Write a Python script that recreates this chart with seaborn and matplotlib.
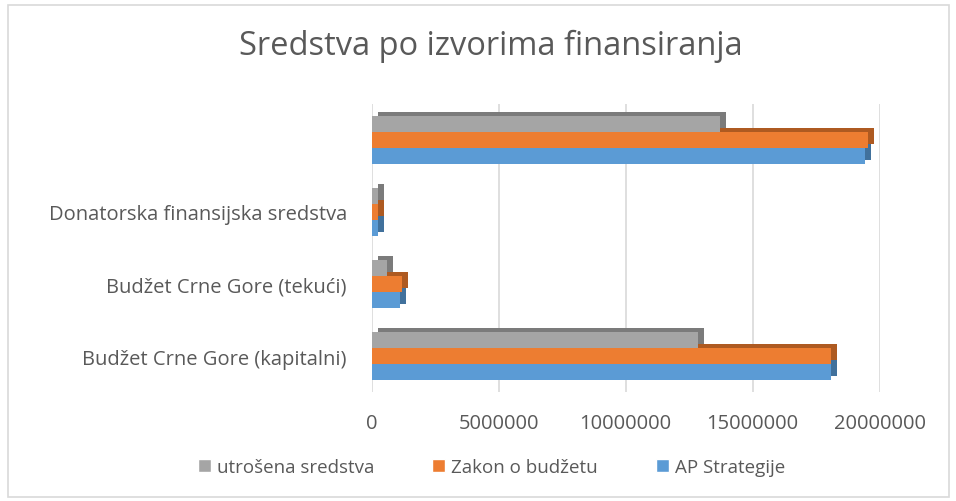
import numpy as np
import pandas as pd
import matplotlib

matplotlib.use("Agg")

import matplotlib.pyplot as plt
import matplotlib.transforms as mtransforms
from matplotlib.patches import Rectangle
import seaborn as sns

# =====================================
# Data
# =====================================

categories = [
    "",
    "Donatorska finansijska sredstva",
    "Budžet Crne Gore (tekući)",
    "Budžet Crne Gore (kapitalni)",
]
series_names = ["utrošena sredstva", "Zakon o budžetu", "AP Strategije"]

utrosena = [13700000, 260000, 600000, 12840000]
zakon = [19540000, 240000, 1200000, 18100000]
ap_strategije = [19440000, 240000, 1120000, 18080000]

x_ticks = [0, 5000000, 10000000, 15000000, 20000000]

colors = ["#A5A5A5", "#ED7D31", "#5B9BD5"]
side_colors = ["#7B7B7B", "#AE5A21", "#41719C"]
text_color = "#595959"

df = pd.DataFrame(
    {
        "izvor": categories * 3,
        "serija": np.repeat(series_names, len(categories)),
        "iznos": utrosena + zakon + ap_strategije,
    }
)

# =====================================
# Plot
# =====================================

sns.set_style("white")
plt.rcParams["font.family"] = ["Open Sans", "DejaVu Sans"]

fig = plt.figure(figsize=(9.56, 5.02), dpi=100)
ax = fig.add_axes([0.389, 0.217, 0.531, 0.574])

sns.barplot(
    data=df,
    x="iznos",
    y="izvor",
    hue="serija",
    order=categories,
    hue_order=series_names,
    palette=colors,
    orient="h",
    width=0.67,
    saturation=1,
    legend=False,
    linewidth=0,
    edgecolor="none",
    ax=ax,
    zorder=3,
)

# fake 3D depth: darker copy of each bar shifted up/right behind it
shift = mtransforms.offset_copy(ax.transData, fig=fig, x=6, y=4, units="dots")
for container, side in zip(ax.containers, side_colors):
    for bar in container:
        ax.add_patch(
            Rectangle(
                (bar.get_x(), bar.get_y()),
                bar.get_width(),
                bar.get_height(),
                facecolor=side,
                edgecolor="none",
                transform=shift,
                zorder=2,
            )
        )

ax.set_xlim(0, 20000000)
ax.set_xticks(x_ticks)
ax.set_xticklabels([str(t) for t in x_ticks])
ax.xaxis.grid(True, color="#D9D9D9", linewidth=1.2, zorder=0)
ax.yaxis.grid(False)
for s in ax.spines.values():
    s.set_visible(False)

ax.set_xlabel("")
ax.set_ylabel("")
ax.tick_params(axis="x", colors=text_color, labelsize=14.5, length=0, pad=15)
ax.tick_params(axis="y", colors=text_color, labelsize=14.5, length=0, pad=18)

fig.suptitle(
    "Sredstva po izvorima finansiranja",
    x=0.513,
    y=0.94,
    fontsize=23.5,
    color=text_color,
)

handles = [Rectangle((0, 0), 1, 1, facecolor=c) for c in colors]
fig.legend(
    handles,
    series_names,
    loc="center",
    bbox_to_anchor=(0.514, 0.068),
    ncol=3,
    frameon=False,
    fontsize=13.5,
    labelcolor=text_color,
    handlelength=0.7,
    handleheight=0.7,
    handletextpad=0.3,
    columnspacing=3.1,
)

# chart border
fig.patches.append(
    Rectangle(
        (0.008, 0.008),
        0.985,
        0.98,
        transform=fig.transFigure,
        fill=False,
        edgecolor="#D9D9D9",
        linewidth=1.2,
    )
)

fig.savefig("out.png", dpi=100)
plt.close(fig)
